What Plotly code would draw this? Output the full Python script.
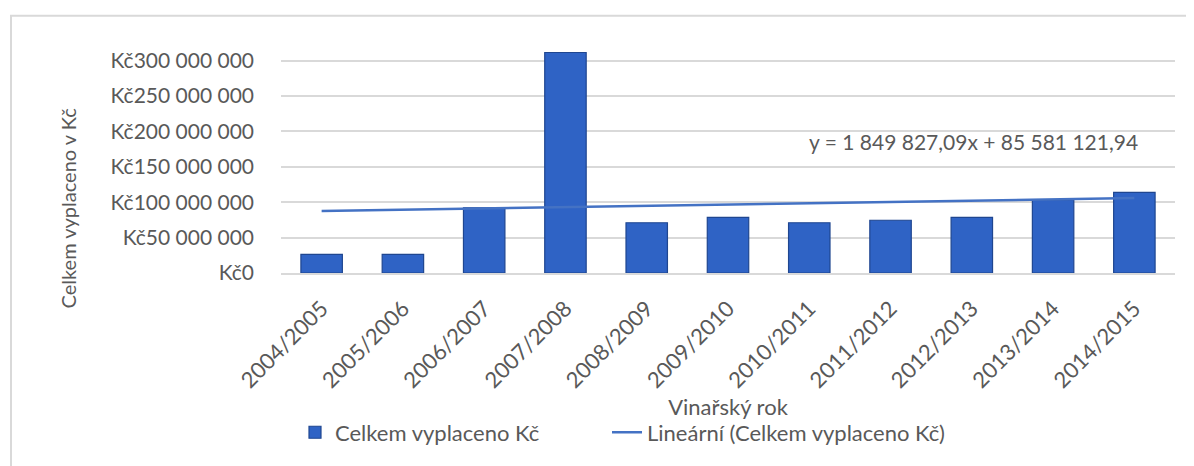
import plotly.graph_objects as go

# Data
seasons = ["2004/2005", "2005/2006", "2006/2007", "2007/2008", "2008/2009", "2009/2010",
           "2010/2011", "2011/2012", "2012/2013", "2013/2014", "2014/2015"]
paid_czk = [26.3e6, 26.3e6, 92.0e6, 311.5e6, 71.0e6, 78.5e6,
            71.0e6, 74.5e6, 78.5e6, 103.5e6, 114.0e6]

# linear trend end points (from y = 1 849 827,09x + 85 581 121,94 at x=1 and x=11)
trend_ends = [87.43e6, 105.93e6]
trend_label = "y = 1 849 827,09x + 85 581 121,94"

ytick_vals = [0, 50e6, 100e6, 150e6, 200e6, 250e6, 300e6]
ytick_text = ["Kč0", "Kč50 000 000", "Kč100 000 000", "Kč150 000 000",
              "Kč200 000 000", "Kč250 000 000", "Kč300 000 000"]

font_family = "Lato, 'Open Sans', sans-serif"
grey_text = "#595959"
grid_col = "#D9D9D9"

# the page body has an 8px margin, so the figure is 8px smaller than the window
W, H = 1186, 458
L, T, PW, PH = 273, 42, 894, 228   # plot area in figure pixels


def px_x(page_x):
    return (page_x - 8 - L) / PW


def px_y(page_y):
    return (T + PH - (page_y - 8)) / PH


fig = go.Figure()

fig.add_trace(go.Bar(
    x=seasons,
    y=paid_czk,
    name="Celkem vyplaceno Kč",
    marker=dict(color="#2F63C5", line=dict(color="#1F4690", width=1.2)),
    legend="legend",
))

fig.add_trace(go.Scatter(
    x=[seasons[0], seasons[-1]],
    y=trend_ends,
    mode="lines",
    name="Lineární (Celkem vyplaceno Kč)",
    line=dict(color="#4472C4", width=2.5),
    legend="legend2",
))

# equation of the trend line
fig.add_annotation(
    text=trend_label, xref="paper", yref="paper",
    x=px_x(1140), y=px_y(144), xanchor="right", yanchor="middle",
    showarrow=False, font=dict(size=21, color=grey_text, family=font_family),
)

# y axis title (placed like in Excel, not centred on the plot area)
fig.add_annotation(
    text="Celkem vyplaceno v Kč", xref="paper", yref="paper",
    x=px_x(68), y=px_y(212), xanchor="center", yanchor="middle",
    textangle=-90, showarrow=False,
    font=dict(size=20, color=grey_text, family=font_family),
)

# chart-area frame
fig.add_shape(
    type="rect", xref="paper", yref="paper",
    x0=px_x(11), x1=px_x(1220),
    y0=px_y(490), y1=px_y(15),
    line=dict(color=grid_col, width=2), layer="below",
)

legend_style = dict(
    orientation="h", xanchor="left", yanchor="middle",
    font=dict(size=22, color=grey_text), bgcolor="rgba(0,0,0,0)",
)

fig.update_layout(
    width=W, height=H,
    margin=dict(l=L, r=W - L - PW, t=T, b=H - T - PH),
    autosize=False,
    paper_bgcolor="white", plot_bgcolor="white",
    font=dict(family=font_family, size=20, color=grey_text),
    bargap=0.49,
    showlegend=True,
    legend=dict(x=px_x(295), y=px_y(441), **legend_style),
    legend2=dict(x=px_x(607), y=px_y(441), **legend_style),
    xaxis=dict(
        title=dict(text="Vinařský rok", standoff=7, font=dict(size=22, color=grey_text)),
        tickangle=-45, tickfont=dict(size=22, color=grey_text),
        ticklabelstandoff=12,
        showline=True, linecolor=grid_col, linewidth=2,
        showgrid=False, automargin=False,
    ),
    yaxis=dict(
        range=[0, 315e6], tickvals=ytick_vals, ticktext=ytick_text,
        tickfont=dict(size=21, color=grey_text),
        showgrid=True, gridcolor=grid_col, gridwidth=2,
        zeroline=False, showline=False,
        ticklabelstandoff=26, automargin=False,
    ),
)

fig.write_html("out.html")
